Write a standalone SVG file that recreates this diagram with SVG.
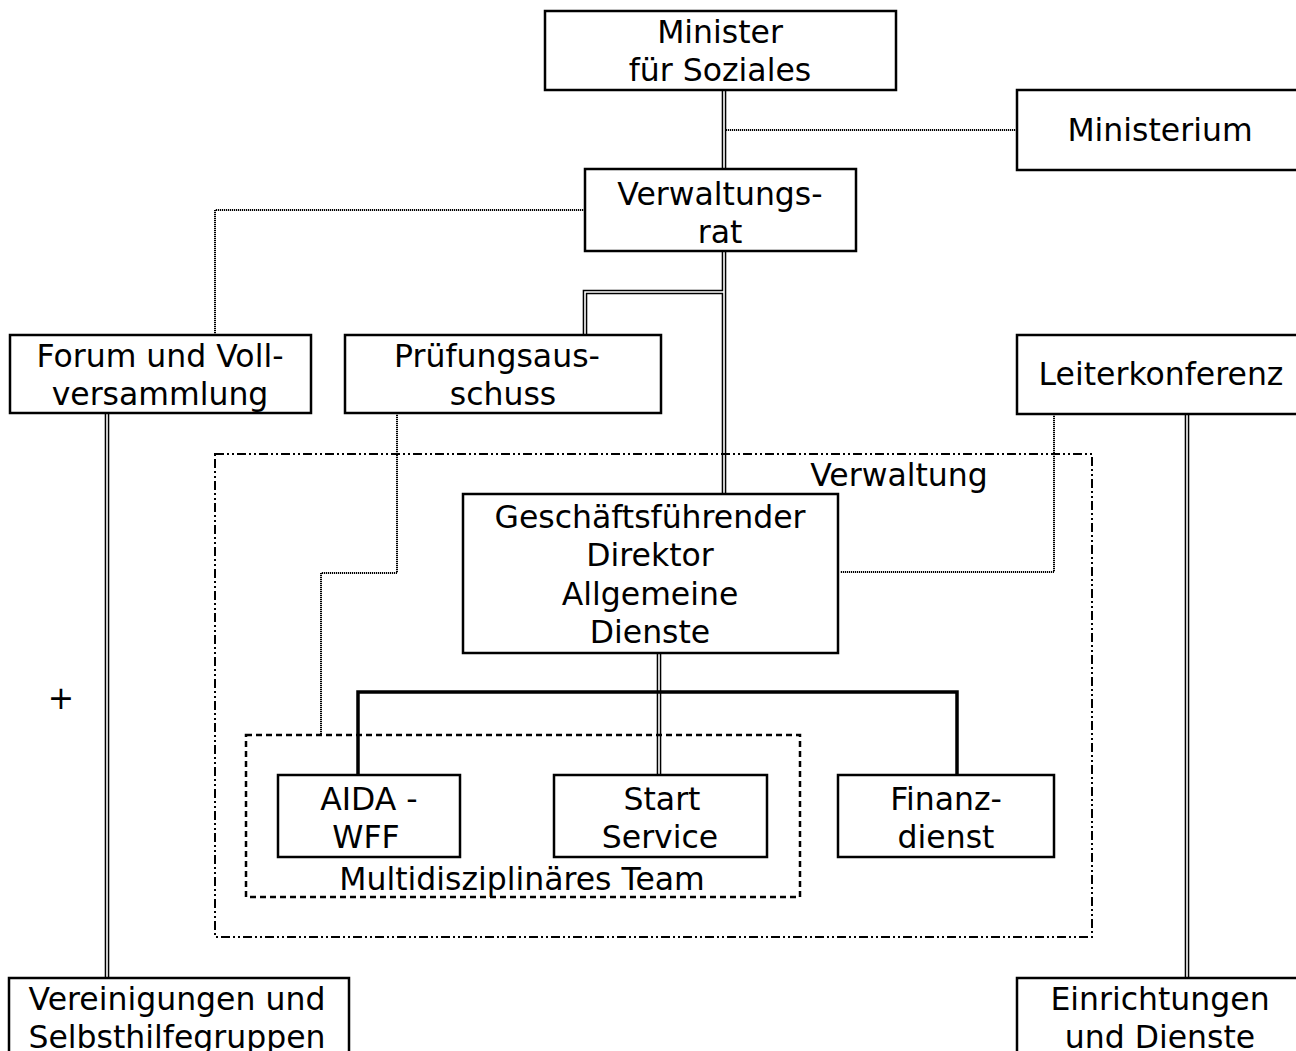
<svg xmlns="http://www.w3.org/2000/svg" width="1296" height="1051" viewBox="0 0 1296 1051">
<style>
  .box { fill: #fff; stroke: #000; stroke-width: 2.5; }
  .t { font-family: "DejaVu Sans", Verdana, sans-serif; font-size: 31.5px; fill: #000; text-anchor: middle; }
  .dbl-o { fill: none; stroke: #000; stroke-width: 4.6; }
  .dbl-i { fill: none; stroke: #fff; stroke-width: 1.6; }
  .thick { fill: none; stroke: #000; stroke-width: 3.5; }
  .dot { fill: none; stroke: #000; stroke-width: 2; stroke-dasharray: 1.2 0.8; }
  .dashdot { fill: none; stroke: #000; stroke-width: 2; stroke-dasharray: 9 3 2 3 2 3; }
  .dash { fill: none; stroke: #000; stroke-width: 2.5; stroke-dasharray: 6 4; }
</style>
<rect width="1296" height="1051" fill="#fff"/>

<g id="connectors">
  <!-- double lines -->
  <path class="dbl-o" d="M724 90 V494 M724 292 H585 V335 M107 413 V978 M1187 414 V978 M659 653 V775"/>
  <path class="dbl-i" d="M724 90 V494 M724 292 H585 V335 M107 413 V978 M1187 414 V978 M659 653 V775"/>
  <!-- thick branch -->
  <path class="thick" d="M358 775 V692 H957 V775"/>
  <!-- dotted links -->
  <path class="dot" d="M726 130 H1017"/>
  <path class="dot" d="M585 210 H215 V335"/>
  <path class="dot" d="M397 413 V573 H321 V735"/>
  <path class="dot" d="M1054 414 V572 H840"/>
</g>

<g id="verwaltung">
  <rect class="dashdot" x="215" y="454" width="877" height="483"/>
  <text class="t" x="899" y="486">Verwaltung</text>
</g>

<g id="team">
  <rect class="dash" x="246" y="735" width="554" height="162"/>
  <text class="t" x="522" y="890">Multidisziplinäres Team</text>
</g>

<g id="minister">
  <rect class="box" x="545" y="11" width="351" height="79"/>
  <text class="t" x="720" y="43">Minister</text>
  <text class="t" x="720" y="81">für Soziales</text>
</g>

<g id="ministerium">
  <rect class="box" x="1017" y="90" width="290" height="80"/>
  <text class="t" x="1160" y="141">Ministerium</text>
</g>

<g id="verwaltungsrat">
  <rect class="box" x="585" y="169" width="271" height="82"/>
  <text class="t" x="720" y="205">Verwaltungs-</text>
  <text class="t" x="720" y="243">rat</text>
</g>

<g id="forum">
  <rect class="box" x="10" y="335" width="301" height="78"/>
  <text class="t" x="160" y="367">Forum und Voll-</text>
  <text class="t" x="160" y="405">versammlung</text>
</g>

<g id="pruefung">
  <rect class="box" x="345" y="335" width="316" height="78"/>
  <text class="t" x="497" y="367">Prüfungsaus-</text>
  <text class="t" x="503" y="405">schuss</text>
</g>

<g id="leiterkonferenz">
  <rect class="box" x="1017" y="335" width="290" height="79"/>
  <text class="t" x="1161" y="385">Leiterkonferenz</text>
</g>

<g id="gf">
  <rect class="box" x="463" y="494" width="375" height="159"/>
  <text class="t" x="650" y="528">Geschäftsführender</text>
  <text class="t" x="650" y="566">Direktor</text>
  <text class="t" x="650" y="605">Allgemeine</text>
  <text class="t" x="650" y="643">Dienste</text>
</g>

<g id="aida">
  <rect class="box" x="278" y="775" width="182" height="82"/>
  <text class="t" x="369" y="810">AIDA -</text>
  <text class="t" x="366" y="848">WFF</text>
</g>

<g id="start">
  <rect class="box" x="554" y="775" width="213" height="82"/>
  <text class="t" x="662" y="810">Start</text>
  <text class="t" x="660" y="848">Service</text>
</g>

<g id="finanz">
  <rect class="box" x="838" y="775" width="216" height="82"/>
  <text class="t" x="946" y="810">Finanz-</text>
  <text class="t" x="946" y="848">dienst</text>
</g>

<g id="vereinigungen">
  <rect class="box" x="9" y="978" width="340" height="90"/>
  <text class="t" x="177" y="1010">Vereinigungen und</text>
  <text class="t" x="177" y="1048">Selbsthilfegruppen</text>
</g>

<g id="einrichtungen">
  <rect class="box" x="1017" y="978" width="290" height="90"/>
  <text class="t" x="1160" y="1010">Einrichtungen</text>
  <text class="t" x="1160" y="1048">und Dienste</text>
</g>

<text class="t" x="61" y="709">+</text>
</svg>
